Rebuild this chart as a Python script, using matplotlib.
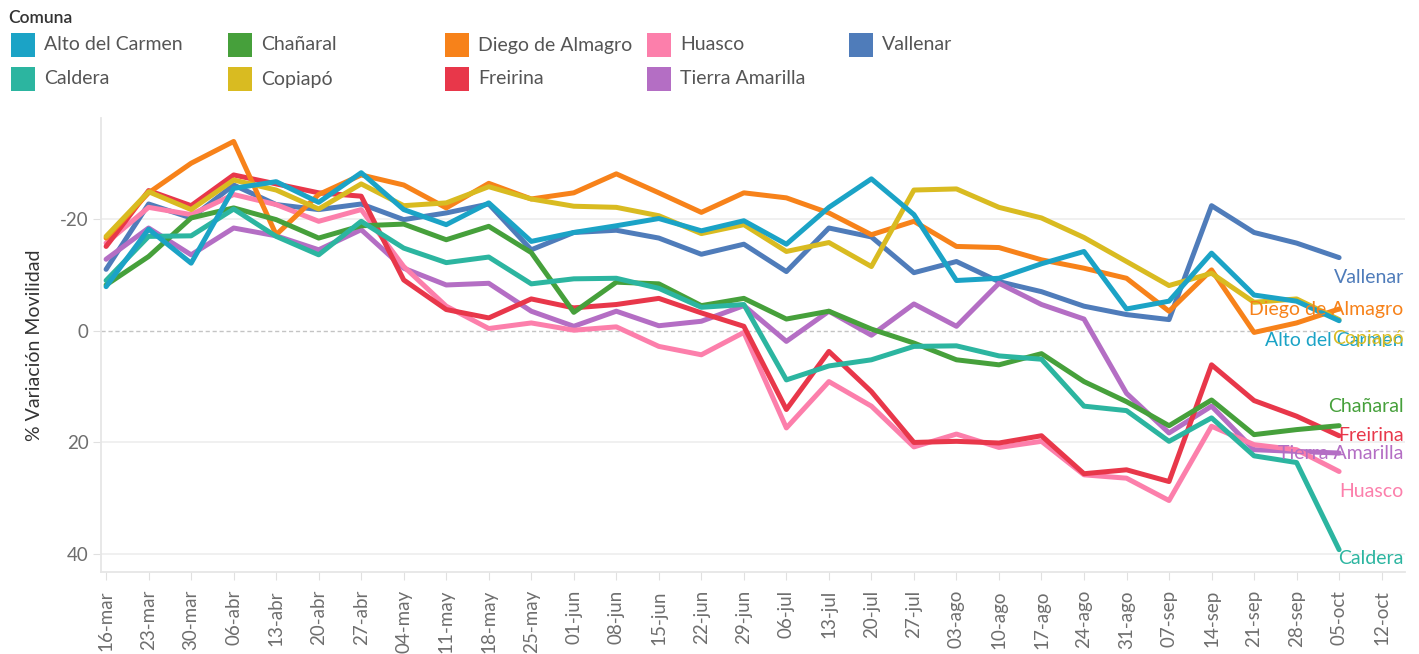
import numpy as np
import matplotlib
matplotlib.use('Agg')
import matplotlib.pyplot as plt
from matplotlib.patches import Rectangle

plt.rcParams['font.family'] = ['Lato', 'DejaVu Sans']
plt.rcParams['axes.unicode_minus'] = False

# semanas (lunes) desde 16-mar
fechas = ['16-mar', '23-mar', '30-mar', '06-abr', '13-abr', '20-abr', '27-abr',
          '04-may', '11-may', '18-may', '25-may', '01-jun', '08-jun', '15-jun',
          '22-jun', '29-jun', '06-jul', '13-jul', '20-jul', '27-jul', '03-ago',
          '10-ago', '17-ago', '24-ago', '31-ago', '07-sep', '14-sep', '21-sep',
          '28-sep', '05-oct', '12-oct']

comunas = ['Alto del Carmen', 'Caldera', 'Chañaral', 'Copiapó', 'Diego de Almagro',
           'Freirina', 'Huasco', 'Tierra Amarilla', 'Vallenar']

alto_del_carmen = [-7.9, -18.2, -12.1, -25.5, -26.7, -23.0, -28.3, -21.7, -19.0, -22.9,
                   -16.0, -17.6, -18.8, -20.1, -17.9, -19.7, -15.5, -22.1, -27.2, -20.8,
                   -9.0, -9.4, -12.0, -14.2, -3.9, -5.3, -13.9, -6.4, -5.3, -1.8]
caldera = [-9.0, -16.9, -17.0, -21.8, -16.9, -13.6, -19.6, -14.8, -12.2, -13.2,
           -8.4, -9.3, -9.4, -7.6, -4.2, -4.7, 8.8, 6.3, 5.2, 2.8,
           2.7, 4.5, 5.1, 13.5, 14.3, 19.8, 15.6, 22.4, 23.6, 39.2]
chanaral = [-8.2, -13.3, -20.2, -22.0, -19.9, -16.6, -18.8, -19.1, -16.3, -18.7,
            -14.0, -3.3, -8.7, -8.4, -4.5, -5.8, -2.1, -3.5, -0.3, 2.2,
            5.2, 6.1, 4.1, 9.1, 12.7, 17.0, 12.4, 18.6, 17.7, 17.0]
copiapo = [-16.9, -24.9, -21.7, -27.0, -25.2, -21.8, -26.3, -22.4, -22.9, -25.8,
           -23.6, -22.3, -22.1, -20.6, -17.4, -19.0, -14.2, -15.8, -11.5, -25.2,
           -25.4, -22.1, -20.2, -16.7, -12.4, -8.1, -10.3, -5.1, -5.7, -2.0]
diego_de_almagro = [-16.6, -24.7, -30.0, -33.9, -17.2, -24.4, -27.9, -26.1, -22.0, -26.4,
                    -23.6, -24.7, -28.1, -24.7, -21.2, -24.7, -23.8, -21.1, -17.2, -19.6,
                    -15.1, -14.9, -12.7, -11.2, -9.4, -3.5, -10.9, 0.3, -1.4, -3.9]
freirina = [-15.1, -25.1, -22.4, -27.9, -26.3, -24.7, -24.1, -9.1, -3.8, -2.3,
            -5.7, -4.1, -4.7, -5.8, -3.2, -0.8, 14.1, 3.7, 10.9, 20.0,
            19.8, 20.1, 18.8, 25.6, 24.9, 27.0, 6.1, 12.5, 15.3, 18.8]
huasco = [-15.7, -22.1, -20.8, -24.4, -22.6, -19.6, -21.7, -11.5, -4.4, -0.4,
          -1.4, -0.1, -0.7, 2.8, 4.3, 0.3, 17.4, 9.1, 13.5, 20.8,
          18.5, 20.9, 19.8, 25.8, 26.4, 30.4, 17.1, 20.4, 21.3, 25.2]
tierra_amarilla = [-12.8, -18.4, -13.6, -18.4, -17.0, -14.5, -18.1, -11.2, -8.2, -8.5,
                   -3.5, -0.8, -3.5, -0.9, -1.7, -4.5, 1.9, -3.5, 0.8, -4.8,
                   -0.8, -8.5, -4.7, -2.1, 11.2, 18.3, 13.5, 21.3, 21.6, 21.9]
vallenar = [-11.0, -22.7, -20.2, -26.1, -22.6, -21.7, -22.7, -19.9, -21.1, -22.7,
            -14.5, -17.6, -18.0, -16.6, -13.7, -15.5, -10.6, -18.4, -16.8, -10.4,
            -12.4, -8.8, -7.0, -4.4, -2.9, -2.0, -22.4, -17.6, -15.7, -13.1]

series = [alto_del_carmen, caldera, chanaral, copiapo, diego_de_almagro,
          freirina, huasco, tierra_amarilla, vallenar]

colores = ['#1ba3c6', '#2cb5a0', '#46a03b', '#d9bb21', '#f7821a',
           '#e8374a', '#fc7fab', '#b46ec4', '#4f7cba']

# desplazamiento vertical de las etiquetas finales (evitar solapes, como en el original)
desplaz_etiqueta = [3.5, 1.5, -3.4, 3.3, 0.1, 0.0, 3.6, 0.0, 3.5]

fig = plt.figure(figsize=(14.19, 6.54), dpi=100)
W, H = 1419, 654
ax = fig.add_axes([101 / W, 1 - 572 / H, (1405 - 101) / W, (572 - 118) / H])

x = np.arange(len(fechas) - 1)
n = len(series)
for i, (nombre, datos, col) in enumerate(zip(comunas, series, colores)):
    ax.plot(x, datos, color=col, lw=3.6, solid_capstyle='round',
            solid_joinstyle='round', zorder=10 + n - i)
    ax.text(0.999, datos[-1] + desplaz_etiqueta[i], nombre, color=col, fontsize=14,
            ha='right', va='center', transform=ax.get_yaxis_transform(),
            zorder=30)

ax.set_xlim(-0.12, 30.55)
ax.set_ylim(43.2, -38.1)
ax.set_yticks([-20, 0, 20, 40])
ax.set_xticks(np.arange(len(fechas)))
ax.set_xticklabels(fechas, rotation=90)

for yv in [-20, 20, 40]:
    ax.axhline(yv, color='#efefef', lw=1.3, zorder=1)
ax.axhline(0, color='#c4c4c4', lw=1.0, ls=(0, (3, 2)), zorder=2)

for s in ['top', 'right']:
    ax.spines[s].set_visible(False)
for s in ['left', 'bottom']:
    ax.spines[s].set_color('#e6e6e6')
    ax.spines[s].set_linewidth(1.3)

ax.tick_params(axis='both', colors='#e0e0e0', labelcolor='#6e6e6e', labelsize=13.5)
ax.tick_params(axis='x', length=6, pad=7)
ax.tick_params(axis='y', length=6, pad=3)
ax.set_ylabel('% Variación Movilidad', fontsize=14, color='#333333', labelpad=12)

# leyenda manual tipo Tableau
fig.text(8 / W, 1 - 18 / H, 'Comuna', fontsize=12.5, color='#333333',
         ha='left', va='center', fontweight='semibold')
col_x = [11, 228, 445, 647, 849]
fila_y = [45, 79]
for i, (nombre, col) in enumerate(zip(comunas, colores)):
    cx = col_x[i // 2]
    cy = fila_y[i % 2]
    fig.add_artist(Rectangle((cx / W, 1 - (cy + 12) / H), 24 / W, 24 / H,
                             transform=fig.transFigure, color=col, lw=0))
    fig.text((cx + 33) / W, 1 - cy / H, nombre, fontsize=14, color='#555555',
             ha='left', va='center')

fig.savefig('out.png', dpi=100)
